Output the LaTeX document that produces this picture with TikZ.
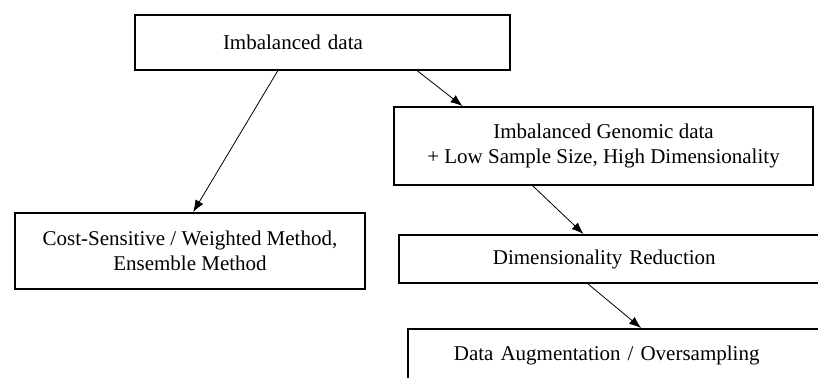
\documentclass[tikz,border=0pt]{standalone}
\usepackage{fontspec}
\setmainfont{Liberation Serif}
\usetikzlibrary{arrows.meta,calc}

\begin{document}
\begin{tikzpicture}[x=1pt,y=-1pt,
    box/.style={draw,line width=1.8pt,inner ysep=0pt,font=\fontsize{21}{25}\selectfont},
    flow/.style={-{Latex[length=12pt,width=9pt]},line width=0.8pt}]
    \clip (0,0) rectangle (818,377);
    \fill[white] (0,0) rectangle (818,377);
    \node[box,text width=199pt,inner xsep=88pt,minimum height=55pt,align=left] (imb) at (322.5,42.5) {Imbalanced data};
    \node[box,minimum width=419pt,minimum height=78pt,align=center] (gen) at (603.5,146) {Imbalanced Genomic data\\+ Low Sample Size, High Dimensionality};
    \node[box,minimum width=350pt,minimum height=76pt,align=center] (cost) at (190,251) {Cost-Sensitive / Weighted Method,\\Ensemble Method};
    \node[box,text width=252pt,inner xsep=94pt,minimum height=48pt,align=left,anchor=west] (dim) at (398,259) {Dimensionality Reduction};
    \node[box,text width=348pt,inner xsep=46pt,minimum height=52pt,align=left,anchor=west] (aug) at (407,355) {Data Augmentation / Oversampling};
    \draw[flow] ($(imb.south west)!0.381!(imb.south east)$) -- ($(cost.north west)!0.509!(cost.north east)$);
    \draw[flow] ($(imb.south west)!0.752!(imb.south east)$) -- ($(gen.north west)!0.165!(gen.north east)$);
    \draw[flow] ($(gen.south west)!0.332!(gen.south east)$) -- ($(dim.north west)!0.42!(dim.north east)$);
    \draw[flow] ($(dim.south west)!0.43!(dim.south east)$) -- ($(aug.north west)!0.53!(aug.north east)$);
\end{tikzpicture}
\end{document}
